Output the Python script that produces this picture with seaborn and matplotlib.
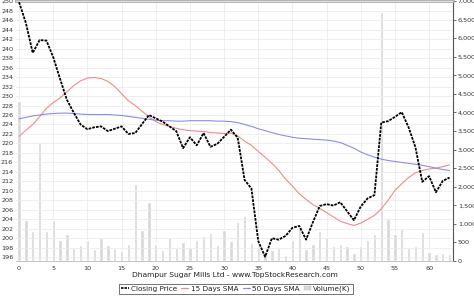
import matplotlib
matplotlib.use("Agg")
import matplotlib.pyplot as plt
import seaborn as sns
import numpy as np
import pandas as pd
from matplotlib.ticker import FuncFormatter, MultipleLocator
from matplotlib.patches import Rectangle
from matplotlib.lines import Line2D

closing = [249.8, 245.4, 239.1, 241.8, 241.7, 238.2, 233.6, 229.2, 226.5, 224.0,
           223.0, 223.4, 223.6, 222.6, 223.1, 223.6, 222.0, 222.2, 224.1, 226.0,
           225.3, 224.6, 223.6, 222.6, 219.0, 221.3, 219.6, 222.2, 219.3, 219.9,
           221.4, 222.9, 221.2, 212.3, 210.5, 199.4, 196.1, 200.0, 199.7, 200.5,
           202.2, 202.6, 199.7, 203.4, 206.8, 207.2, 206.9, 207.6, 205.7, 203.8,
           206.7, 208.4, 209.1, 224.4, 224.7, 225.6, 226.6, 223.4, 219.2, 211.9,
           213.1, 209.7, 212.1, 212.8]
sma15 = [221.5, 222.8, 224.0, 225.6, 227.4, 228.6, 229.6, 230.9, 232.2, 233.2,
         233.8, 233.9, 233.7, 233.1, 232.0, 230.5, 229.0, 228.0, 226.8, 225.6,
         224.6, 224.0, 223.6, 223.2, 222.9, 222.7, 222.6, 222.5, 222.3, 222.2,
         222.1, 222.2, 221.6, 220.5, 219.6, 218.3, 217.1, 215.8, 214.3, 212.5,
         211.0, 209.4, 208.2, 207.1, 206.3, 205.4, 204.5, 203.6, 203.1, 202.7,
         203.2, 204.0, 204.8, 206.2, 208.0, 210.1, 211.5, 212.8, 213.8, 214.3,
         214.6, 214.8, 215.1, 215.5]
sma50 = [225.2, 225.5, 225.8, 226.0, 226.2, 226.3, 226.4, 226.4, 226.3, 226.2,
         226.1, 226.1, 226.1, 226.1, 226.0, 225.9, 225.7, 225.5, 225.3, 225.1,
         224.9, 224.8, 224.8, 224.7, 224.7, 224.8, 224.8, 224.8, 224.8, 224.7,
         224.7, 224.6, 224.4, 224.0, 223.6, 223.1, 222.7, 222.3, 221.9, 221.6,
         221.3, 221.1, 221.0, 220.9, 220.8, 220.7, 220.5, 220.2, 219.6, 219.0,
         218.2, 217.6, 217.1, 216.7, 216.4, 216.2, 216.0, 215.8, 215.6, 215.4,
         215.1, 214.8, 214.5, 214.3]
volume = [4300, 1108, 811, 3197, 811, 1108, 568, 730, 342, 432,
          559, 315, 613, 432, 342, 279, 459, 2072, 838, 1577,
          470, 288, 658, 360, 505, 360, 568, 667, 748, 432,
          847, 541, 1063, 1216, 495, 405, 225, 297, 342, 162,
          568, 883, 315, 459, 820, 640, 405, 459, 405, 207,
          405, 568, 730, 6694, 1126, 730, 883, 342, 405, 775,
          252, 189, 225, 189]

title = "Dhampur Sugar Mills Ltd - www.TopStockResearch.com"
days = list(range(len(closing)))

sns.set_theme(style="white")
plt.rcParams['font.family'] = ['DejaVu Sans']

W, H = 474, 296
fig = plt.figure(figsize=(W / 100, H / 100), dpi=100)
ax = fig.add_axes([16 / W, 1 - 261 / H, (453 - 16) / W, (261 - 1) / H])

df = pd.DataFrame({"day": days, "close": closing, "sma15": sma15,
                   "sma50": sma50, "vol": volume})

# volume bars on base axis
sns.barplot(data=df, x="day", y="vol", native_scale=True, width=0.5,
            color="#d8d8d8", saturation=1, ax=ax, zorder=1)
ax.set_xlabel("")
ax.set_ylabel("")

ax2 = ax.twinx()
# swap sides: volume on right, price on left
ax.yaxis.tick_right()
ax.yaxis.set_label_position("right")
ax2.yaxis.tick_left()
ax2.yaxis.set_label_position("left")

ax.set_ylim(0, 7000)
ax.yaxis.set_major_locator(MultipleLocator(500))
ax.yaxis.set_major_formatter(FuncFormatter(lambda v, p: f"{int(v):,}"))
ax.set_xlim(-0.45, 63.5)
ax.xaxis.set_major_locator(MultipleLocator(5))

ax2.set_ylim(195.2, 250.05)
ax2.yaxis.set_major_locator(MultipleLocator(2))
ax2.grid(True, axis="y", color="#ececec", lw=0.6)
ax.grid(True, axis="x", color="#ececec", lw=0.6)

sns.lineplot(data=df, x="day", y="sma15", ax=ax2, color="#f08a8a", lw=0.8)
sns.lineplot(data=df, x="day", y="sma50", ax=ax2, color="#8c8cf0", lw=0.8)
sns.lineplot(data=df, x="day", y="close", ax=ax2, color="black", lw=1.3,
             linestyle=(0, (1.5, 0.6)))
ax2.set_xlabel("")
ax2.set_ylabel("")
ax2.set_xlim(-0.45, 63.5)

for a in (ax, ax2):
    a.tick_params(axis="both", labelsize=4.6, length=2, width=0.5, pad=1.5,
                  colors="#333333")
    for s in a.spines.values():
        s.set_visible(False)
ax2.tick_params(axis="y", length=0, pad=2)
ax.spines["right"].set_visible(True)
ax.spines["right"].set_color("#555555")
ax.spines["right"].set_linewidth(0.8)
ax.spines["bottom"].set_visible(True)
ax.spines["bottom"].set_color("#bbbbbb")
ax.spines["bottom"].set_linewidth(0.6)
ax.spines["top"].set_visible(True)
ax.spines["top"].set_color("#aaaaaa")
ax.spines["top"].set_linewidth(2)

fig.text(235 / W, 1 - 275 / H, title, ha="center", va="center",
         fontsize=5.4, color="#222222")

handles = [
    Line2D([], [], color="black", lw=1.2, linestyle=(0, (1.5, 0.6))),
    Line2D([], [], color="#f08a8a", lw=0.9),
    Line2D([], [], color="#8c8cf0", lw=0.9),
    Rectangle((0, 0), 1, 1, facecolor="#d8d8d8", edgecolor="#bbbbbb", lw=0.3),
]
labels = ["Closing Price", "15 Days SMA", "50 Days SMA", "Volume(K)"]
leg = fig.legend(handles, labels, loc="center", bbox_to_anchor=(236 / W, 1 - 289 / H),
                 ncol=4, fontsize=5.2, frameon=True, fancybox=False,
                 handlelength=1.0, handletextpad=0.3, columnspacing=0.6,
                 borderpad=0.3, handleheight=0.6)
leg.get_frame().set_edgecolor("#333333")
leg.get_frame().set_linewidth(0.6)
for t in leg.get_texts():
    t.set_color("#222222")

fig.savefig("out.png", dpi=100)
